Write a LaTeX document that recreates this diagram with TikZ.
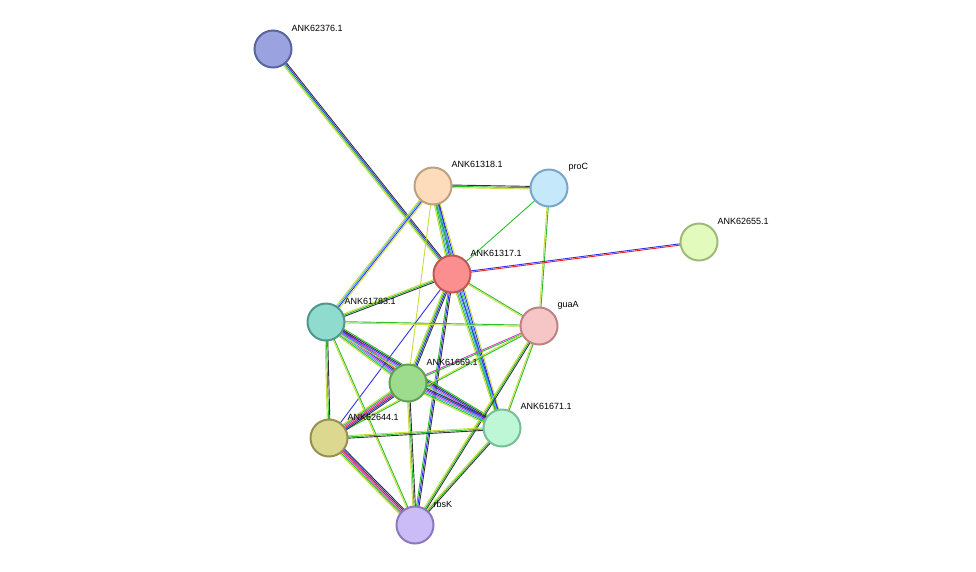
\documentclass[tikz,border=0pt]{standalone}
\usepackage{fontspec}
\setmainfont{Liberation Sans}
\usetikzlibrary{calc}
\definecolor{cy}{HTML}{C8DC3C}\definecolor{cg}{HTML}{2ABF2A}\definecolor{cb}{HTML}{3030F0}
\definecolor{ck}{HTML}{333333}\definecolor{cc}{HTML}{40B0E0}\definecolor{cm}{HTML}{D040D0}
\definecolor{cr}{HTML}{F02020}
\newcommand\edg[4]{% a b n colors
 \foreach \c [count=\i] in {#4} {
  \pgfmathsetmacro\o{(\i-1-(#3-1)/2)*1.3}
  \draw[line width=0.9pt,draw=\c] ($(#1)!\o pt!90:(#2)$) -- ($(#2)!\o pt!-90:(#1)$);
 }}
\tikzset{nd/.style={circle,minimum size=37pt,inner sep=0,line width=2pt},
 lb/.style={font=\fontsize{9}{10}\selectfont,anchor=west}}
\begin{document}
\begin{tikzpicture}[x=1pt,y=-1pt]
\useasboundingbox (0,0) rectangle (976,571);
\coordinate (A) at (273,49); \coordinate (B) at (433,186); \coordinate (C) at (549,188);
\coordinate (D) at (699,242); \coordinate (E) at (452,274); \coordinate (F) at (326,322);
\coordinate (G) at (539,326); \coordinate (H) at (408,383); \coordinate (I) at (502,428);
\coordinate (J) at (329,438); \coordinate (K) at (415,525);
\edg{A}{E}{4}{cy,cg,cb,ck}
\edg{B}{C}{3}{cy,cg,ck}
\edg{B}{E}{5}{cy,cg,cc,cb,ck}
\edg{B}{F}{4}{cy,cc,cb,cy}
\edg{B}{H}{1}{cy}
\edg{B}{I}{4}{cg,cc,cb,cy}
\edg{C}{E}{1}{cg}
\edg{C}{G}{2}{cy,cg}
\edg{E}{D}{2}{cr,cb}
\edg{E}{F}{3}{cy,cg,ck}
\edg{E}{G}{2}{cy,cg}
\edg{E}{H}{4}{cy,cg,cb,ck}
\edg{E}{J}{1}{cb}
\edg{E}{I}{4}{cy,cg,cc,cb}
\edg{E}{K}{3}{cg,cb,ck}
\edg{F}{G}{2}{cy,cg}
\edg{F}{H}{7}{cy,cg,cc,cm,cb,ck,cr}
\edg{F}{I}{6}{cy,cc,cm,cb,ck,cg}
\edg{F}{J}{3}{cy,cg,ck}
\edg{F}{K}{2}{cy,cg}
\edg{G}{H}{2}{cm,cg}
\edg{G}{I}{2}{cy,cg}
\edg{G}{J}{2}{cy,cg}
\edg{G}{K}{3}{cy,cg,ck}
\edg{H}{J}{6}{cy,cg,cm,cr,cb,ck}
\edg{H}{I}{6}{cy,cg,cc,cm,cb,ck}
\edg{H}{K}{3}{cy,cg,ck}
\edg{I}{J}{3}{cy,cg,ck}
\edg{I}{K}{3}{cy,cg,ck}
\edg{J}{K}{6}{cy,cg,cm,cr,cb,ck}
\node[nd,fill={rgb,255:red,154;green,163;blue,224},draw={rgb,255:red,90;green,100;blue,160}] (nA) at (A) {};
\node[nd,fill={rgb,255:red,253;green,220;blue,188},draw={rgb,255:red,190;green,160;blue,130}] (nB) at (B) {};
\node[nd,fill={rgb,255:red,198;green,232;blue,251},draw={rgb,255:red,120;green,165;blue,200}] (nC) at (C) {};
\node[nd,fill={rgb,255:red,226;green,251;blue,188},draw={rgb,255:red,160;green,185;blue,120}] (nD) at (D) {};
\node[nd,fill={rgb,255:red,251;green,143;blue,143},draw={rgb,255:red,195;green,85;blue,85}] (nE) at (E) {};
\node[nd,fill={rgb,255:red,143;green,220;blue,207},draw={rgb,255:red,80;green,150;blue,140}] (nF) at (F) {};
\node[nd,fill={rgb,255:red,246;green,198;blue,198},draw={rgb,255:red,190;green,130;blue,130}] (nG) at (G) {};
\node[nd,fill={rgb,255:red,158;green,220;blue,141},draw={rgb,255:red,95;green,160;blue,85}] (nH) at (H) {};
\node[nd,fill={rgb,255:red,189;green,247;blue,214},draw={rgb,255:red,120;green,190;blue,150}] (nI) at (I) {};
\node[nd,fill={rgb,255:red,220;green,216;blue,144},draw={rgb,255:red,150;green,145;blue,80}] (nJ) at (J) {};
\node[nd,fill={rgb,255:red,203;green,188;blue,247},draw={rgb,255:red,140;green,120;blue,190}] (nK) at (K) {};
\node[lb] at (288,28) {ANK62376.1};
\node[lb] at (448,164) {ANK61318.1};
\node[lb] at (565,167) {proC};
\node[lb] at (714,221) {ANK62655.1};
\node[lb] at (467,253) {ANK61317.1};
\node[lb] at (341,301) {ANK61783.1};
\node[lb] at (554,305) {guaA};
\node[lb] at (423,362) {ANK61669.1};
\node[lb] at (517,406) {ANK61671.1};
\node[lb] at (344,417) {ANK62644.1};
\node[lb] at (430,504) {rbsK};
\end{tikzpicture}
\end{document}
